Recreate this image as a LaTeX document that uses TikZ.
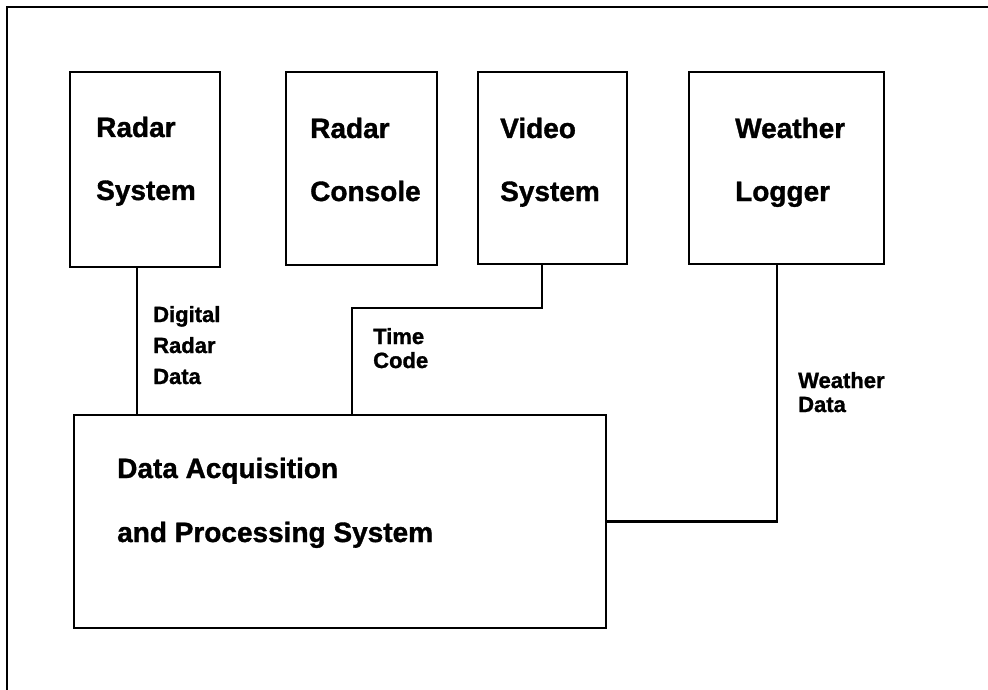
\documentclass[tikz,border=0pt]{standalone}
\usepackage{fontspec}
\setmainfont{Liberation Sans}[BoldFeatures={FakeBold=1.2}]
\begin{document}
\begin{tikzpicture}[x=1pt,y=-1pt,
  box/.style={draw, line width=2.6pt, rectangle, inner sep=0pt, outer sep=0pt},
  big/.style={font=\fontsize{28}{28}\selectfont\bfseries, anchor=base west, inner sep=0pt},
  small/.style={font=\fontsize{22}{22}\selectfont\bfseries, anchor=base west, inner sep=0pt},
  wire/.style={line width=2.6pt}]
\useasboundingbox (0,0) rectangle (988,690);
\fill[white] (0,0) rectangle (988,690);
% outer frame (top and left only)
\draw[line width=2.8pt] (988,7) -- (7,7) -- (7,690);

% boxes
\node[box, minimum width=150pt, minimum height=195pt] (rs) at (145,169.5) {};
\node[box, minimum width=151pt, minimum height=193pt] (rc) at (361.5,168.5) {};
\node[box, minimum width=149pt, minimum height=192pt] (vs) at (552.5,168) {};
\node[box, minimum width=195pt, minimum height=192pt] (wl) at (786.5,168) {};
\node[box, minimum width=532pt, minimum height=213pt] (dap) at (340,521.5) {};

% box texts
\node[big] (rs1) at (96,137) {Radar};
\node[big] (rs2) at (96,200) {System};
\node[big] (rc1) at (310,138) {Radar};
\node[big] (rc2) at (310,201) {Console};
\node[big] (vs1) at (500,138) {Video};
\node[big] (vs2) at (500,201) {System};
\node[big] (wl1) at (735,138) {Weather};
\node[big] (wl2) at (735,201) {Logger};
\node[big] (dp1) at (117,478) {Data Acquisition};
\node[big] (dp2) at (117,542) {and Processing System};

% connectors
\coordinate (tc) at (352,308);
\draw[wire] ([xshift=-8pt]rs.south) -- ([xshift=-8pt]rs.south |- dap.north);
\draw[wire] ([xshift=-10.5pt]vs.south) |- (tc) -- (tc |- dap.north);
\draw[wire] ([xshift=-9.5pt]wl.south) |- (dap.east);

% connector labels
\node[small] (l1) at (153,322) {Digital};
\node[small] (l2) at (153,353) {Radar};
\node[small] (l3) at (153,384) {Data};
\node[small] (l4) at (373,344) {Time};
\node[small] (l5) at (373,368) {Code};
\node[small] (l6) at (798,388) {Weather};
\node[small] (l7) at (798,412) {Data};
\end{tikzpicture}
\end{document}
